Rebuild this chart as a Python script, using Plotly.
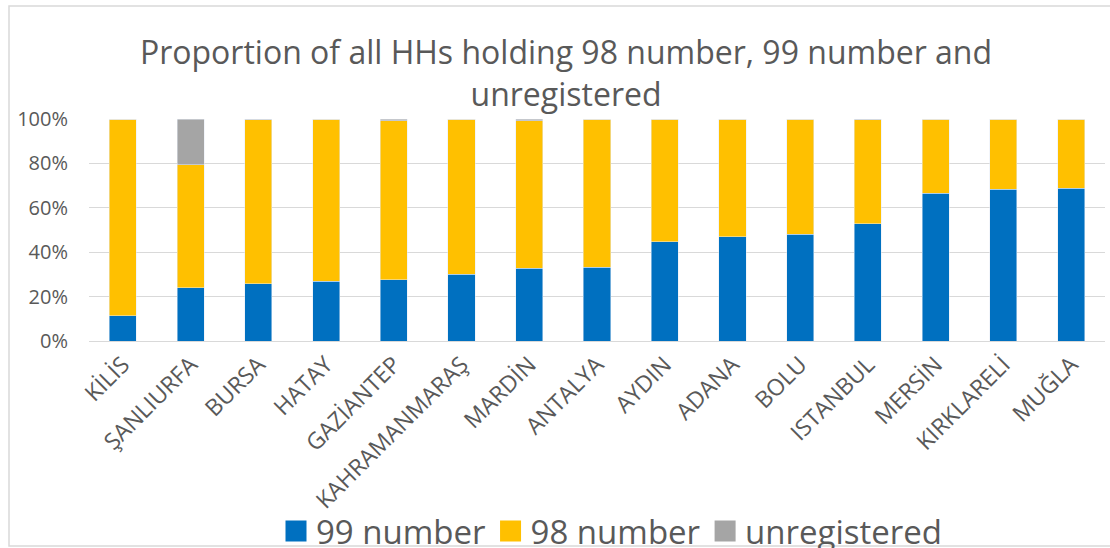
import plotly.graph_objects as go

provinces = ["KİLİS", "ŞANLIURFA", "BURSA", "HATAY", "GAZİANTEP", "KAHRAMANMARAŞ",
             "MARDİN", "ANTALYA", "AYDIN", "ADANA", "BOLU", "ISTANBUL", "MERSİN",
             "KIRKLARELİ", "MUĞLA"]
num99 = [11.4, 24.0, 25.7, 26.9, 27.6, 30.0, 32.7, 33.2, 44.6, 47.0, 48.2, 52.8, 66.5, 68.3, 68.9]
num98 = [88.6, 55.3, 74.0, 73.1, 71.6, 70.0, 66.5, 66.8, 55.4, 53.0, 51.8, 46.8, 33.5, 31.7, 31.1]
unreg = [0.0, 20.7, 0.3, 0.0, 0.8, 0.0, 0.8, 0.0, 0.0, 0.0, 0.0, 0.4, 0.0, 0.0, 0.0]
y_ticks = [0, 20, 40, 60, 80, 100]
series_names = ["99 number", "98 number", "unregistered"]
series_colors = ["#0070C0", "#FFC000", "#A5A5A5"]

W, H = 1110, 548
L, R, T, B = 89, 5, 119, 207
TXT = "#595959"
FONT = "Open Sans"

fig = go.Figure()
for name, vals, col in zip(series_names, [num99, num98, unreg], series_colors):
    fig.add_trace(go.Bar(name=name, x=provinces, y=vals, marker_color=col,
                         legendgroup=name, showlegend=False))
# legend entries with larger square swatches
for name, col in zip(series_names, series_colors):
    fig.add_trace(go.Scatter(name=name, x=[provinces[0]], y=[None], mode="markers",
                             marker=dict(symbol="square", size=16, color=col,
                                         line=dict(color=col, width=5)),
                             legendgroup=name, showlegend=True, hoverinfo="skip"))

pw = W - L - R
ph = H - T - B

def px_x(x):
    return (x - L) / pw

def px_y(y):
    return (H - B - y) / ph

fig.update_layout(
    barmode="stack",
    bargap=0.6,
    width=W, height=H,
    margin=dict(l=L, r=R, t=T, b=B, autoexpand=False),
    paper_bgcolor="white",
    plot_bgcolor="white",
    font=dict(family=FONT, color=TXT),
    title=dict(
        text="Proportion of all HHs holding 98 number, 99 number and<br>unregistered",
        font=dict(size=32, color=TXT, family=FONT),
        x=566 / W, xanchor="center", xref="container",
        y=1 - 64 / H, yanchor="top", yref="container",
    ),
    xaxis=dict(
        range=[-0.5, len(provinces) - 0.5],
        tickangle=-45,
        tickfont=dict(size=23, color=TXT),
        showline=True, linecolor="#d9d9d9", linewidth=1,
        showgrid=False, ticks="",
    ),
    yaxis=dict(
        range=[0, 100],
        tickvals=y_ticks,
        ticktext=[f"{v}%" for v in y_ticks],
        tickfont=dict(size=20, color=TXT),
        ticklabelstandoff=20,
        showgrid=True, gridcolor="#d9d9d9", gridwidth=1,
        zeroline=False, showline=False, ticks="",
    ),
    legend=dict(
        orientation="h",
        x=612 / W, xanchor="center", xref="container",
        y=px_y(531), yanchor="middle",
        font=dict(size=33, color=TXT),
        bgcolor="rgba(0,0,0,0)",
        itemwidth=30,
        itemsizing="trace",
        traceorder="normal",
    ),
    showlegend=True,
    shapes=[
        dict(type="rect", xref="paper", yref="paper",
             x0=px_x(9), x1=px_x(1120), y0=px_y(546), y1=px_y(6),
             line=dict(color="#d9d9d9", width=1.5), fillcolor="rgba(0,0,0,0)", layer="below"),
    ],
)

fig.write_html("out.html", config={"displayModeBar": False},
               post_script="document.body.style.margin='0px';")
